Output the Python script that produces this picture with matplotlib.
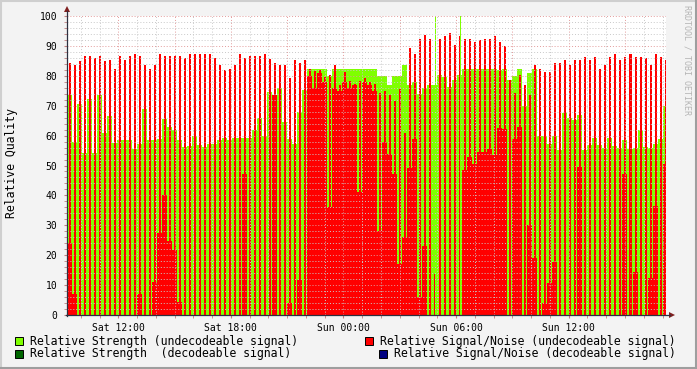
import matplotlib
matplotlib.use("Agg")
import matplotlib.pyplot as plt
import numpy as np
from matplotlib.patches import Rectangle, Polygon
from matplotlib.lines import Line2D
from matplotlib.ticker import MultipleLocator, FixedLocator

# ---------------- data ----------------
# one slot every 16 minutes, first slot begins Sat 09:16 (hours counted from Sat 00:00)
slot_start_hour = 9.267
slot_hours = 16 / 60

strength = [73.5, 58, 70.7, 54.3, 72.4, 54.3, 73.5, 61, 66.4, 57.6, 58.4, 58.4, 58.4, 55.6, 57.3, 69, 58.4, 58.4, 59, 65.7, 62.9, 61.8, 58.4, 56.2,
            56.4, 60, 57, 56.2, 57.3, 57.3, 58.4, 59.3, 58.4, 59.3, 59.3, 59.3, 59.3, 62, 66, 60, 74.6, 72, 76, 64.5, 59, 57.3, 68, 75.4,
            82.4, 82.4, 82.4, 82.4, 80, 82.4, 82.4, 82.4, 82.4, 82.4, 82.4, 82.4, 82.4, 82.4, 80, 80, 77, 80, 80, 83.5, 77, 78, 74, 76,
            77, 77, 80.4, 79.6, 76.3, 78.7, 80.4, 82.4, 82.4, 82.4, 82.4, 82.4, 82.4, 82.4, 82, 82.4, 78.5, 80, 82.4, 70, 81, 82.4, 60, 60,
            57.3, 60, 55.1, 67.6, 66, 65.3, 66.8, 55.3, 57, 59.3, 56.7, 56, 59.3, 56.6, 56, 58.4, 55.6, 55.8, 62, 56.2, 56, 57.3, 59, 70]

snr_main = [84.3, 83.5, 84.8, 86.5, 86.5, 86, 86.5, 84.8, 85.4, 82.4, 86.5, 85.4, 86.5, 87.4, 86.5, 83.5, 82.4, 83.5, 87.4, 86.5, 86.5, 86.5, 86.5, 86,
            87.4, 87.4, 87.4, 87.4, 87.4, 86, 83.5, 82, 82.4, 83.5, 87.4, 86, 86.5, 86.5, 86.5, 87.4, 85.7, 84.3, 83.5, 83.5, 79.4, 85.4, 84.3, 85.4,
            82.4, 81.5, 82, 79.6, 80.4, 83.5, 77, 81.3, 78.3, 77.4, 78.3, 79.3, 78, 77.4, 74.4, 75, 73.5, 71.6, 75.7, 61, 89.4, 87.4, 92.4, 93.5,
            92.4, 13.8, 92.4, 93.3, 94.4, 90.4, 93.3, 92.4, 92.4, 91.3, 92, 92.4, 92.4, 93.3, 91.3, 90, 78.5, 74.4, 80.4, 77, 73.5, 83.5, 82.4, 81.3,
            81.3, 84.3, 84.3, 85.4, 83.5, 85.4, 85.4, 86.3, 85.4, 86.3, 82.4, 83.5, 86.3, 87.4, 85.4, 86.3, 87.4, 86.3, 86.3, 86, 83.5, 87.4, 86.3, 85.2]

snr_side = [24, 7, 0, 0, 0, 0, 0, 0, 0, 0, 0, 0, 0, 0, 7.1, 0, 0, 11, 27.5, 40, 24.6, 21.6, 4.3, 0,
            0, 0, 0, 0, 0, 0, 0, 0, 0, 0, 0, 47, 0, 0, 0, 0, 0, 73.7, 0, 0, 4, 0, 11.6, 0,
            80, 76, 81, 78, 36, 76, 75, 78, 76, 77, 41, 78, 77, 75, 28, 58, 54, 47, 17, 26, 49, 59, 6, 23,
            0, 0, 0, 0, 0, 0, 0, 48.4, 53, 50.5, 54.5, 54.5, 55.5, 53.5, 62.5, 62.3, 0, 59, 63, 0, 30, 19, 0, 4,
            10.7, 17.7, 0, 0, 0, 0, 49.5, 0, 0, 0, 0, 0, 0, 0, 0, 47, 0, 14.4, 0, 0, 12.5, 36.3, 0, 50.6]

spike_slots = [73, 78]
spike_values = [100, 100]

x_tick_hours = [12, 18, 24, 30, 36]
x_tick_labels = ["Sat 12:00", "Sat 18:00", "Sun 00:00", "Sun 06:00", "Sun 12:00"]
y_ticks = [0, 10, 20, 30, 40, 50, 60, 70, 80, 90, 100]

legend_labels = ["Relative Strength (undecodeable signal)",
                 "Relative Signal/Noise (undecodeable signal)",
                 "Relative Strength  (decodeable signal)",
                 "Relative Signal/Noise (decodeable signal)"]
legend_colors = ["#7FFF00", "#FF0000", "#006600", "#000080"]

# ---------------- figure ----------------
W, H = 697, 369
fig = plt.figure(figsize=(W / 100, H / 100), dpi=100, facecolor="#F3F3F3")
MONO = "DejaVu Sans Mono"

def fx(x):
    return x / W

def fy(y):
    return 1 - y / H

L, R, T, B = 67, 666, 16, 315
ax = fig.add_axes([fx(L), fy(B), (R - L) / W, (B - T) / H])
ax.set_facecolor("white")

t = slot_start_hour + np.arange(len(strength)) * slot_hours
GREEN, RED = "#7FFF00", "#FF0000"
kw = dict(align="edge", linewidth=0, antialiased=False)
ax.bar(t, strength, width=slot_hours, color=GREEN, zorder=1, **kw)
ax.bar(t, snr_side, width=0.4 * slot_hours, color=RED, zorder=1.1, **kw)
ax.bar(t + 0.8 * slot_hours, snr_side, width=0.2 * slot_hours, color=RED, zorder=1.1, **kw)
ax.bar(t + 0.4 * slot_hours, snr_main, width=0.4 * slot_hours, color=RED, zorder=1.2, **kw)
ts = slot_start_hour + np.array(spike_slots) * slot_hours
ax.bar(ts + 0.45 * slot_hours, spike_values, width=0.2 * slot_hours, color=GREEN, zorder=1.3, **kw)

x0 = 9.267
x1 = x0 + (R - L) / (112.6 / 6)
ax.set_xlim(x0, x1)
ax.set_ylim(0, 100)

# grid
for h in np.arange(10, 42, 1):
    if x0 < h < x1:
        major = (h % 3 == 0)
        ax.axvline(h, color="#E39B9B" if major else "#C9C9C9", lw=0.7,
                   linestyle=(0, (1, 2)), zorder=3)
for v in np.arange(2, 101, 2):
    major = (v % 10 == 0)
    ax.axhline(v, color="#E39B9B" if major else "#C9C9C9", lw=0.7,
               linestyle=(0, (1, 2)), zorder=3)

ax.xaxis.set_major_locator(FixedLocator(x_tick_hours))
ax.set_xticklabels(x_tick_labels, fontsize=7.0, family=MONO)
ax.xaxis.set_minor_locator(FixedLocator([h for h in range(10, 42)]))
ax.set_yticks(y_ticks)
ax.set_yticklabels([str(v) for v in y_ticks], fontsize=7.0, family=MONO)
ax.yaxis.set_minor_locator(MultipleLocator(2))
ax.tick_params(axis="x", which="both", length=2, color="#C08080", pad=3.5)
ax.tick_params(axis="y", which="both", length=2, color="#C08080", pad=5)
for s in ax.spines.values():
    s.set_visible(False)

# axis lines and arrows
AXC = "#2C3040"
fig.add_artist(Line2D([fx(L - 1), fx(670)], [fy(B), fy(B)], color=AXC, lw=0.9))
fig.add_artist(Line2D([fx(L), fx(L)], [fy(B + 1), fy(11)], color=AXC, lw=0.9))
ARC = "#7F1F1F"
fig.add_artist(Polygon([(fx(669), fy(B - 3)), (fx(669), fy(B + 3)), (fx(675), fy(B))],
                       closed=True, color=ARC, lw=0))
fig.add_artist(Polygon([(fx(L - 3), fy(12)), (fx(L + 3), fy(12)), (fx(L), fy(6))],
                       closed=True, color=ARC, lw=0))

# y label
fig.text(fx(12), fy(163), "Relative Quality", rotation=90, ha="center", va="center",
         fontsize=8.3, family=MONO)

# watermark
fig.text(fx(687), fy(5), "RRDTOOL / TOBI OETIKER", rotation=270, ha="center", va="top",
         fontsize=6.0, family=MONO, color="#B5B5B5")

# legend
def legend_box(x, y, c):
    fig.add_artist(Rectangle((fx(x), fy(y + 4)), 8 / W, 8 / H, facecolor=c,
                             edgecolor="black", lw=0.7))

legend_box(15, 341, legend_colors[0])
fig.text(fx(30), fy(341), legend_labels[0], ha="left", va="center", fontsize=8.3, family=MONO)
legend_box(365, 341, legend_colors[1])
fig.text(fx(380), fy(341), legend_labels[1], ha="left", va="center", fontsize=8.3, family=MONO)
legend_box(15, 354, legend_colors[2])
fig.text(fx(30), fy(354), legend_labels[2], ha="left", va="center", fontsize=8.3, family=MONO)
legend_box(379, 354, legend_colors[3])
fig.text(fx(394), fy(354), legend_labels[3], ha="left", va="center", fontsize=8.3, family=MONO)

# image border shading
fig.add_artist(Line2D([0, 1], [fy(0.5), fy(0.5)], color="#CFCFCF", lw=1.5))
fig.add_artist(Line2D([fx(0.5), fx(0.5)], [0, 1], color="#CFCFCF", lw=1.5))
fig.add_artist(Line2D([0, 1], [fy(H - 1), fy(H - 1)], color="#9E9E9E", lw=1.5))
fig.add_artist(Line2D([fx(W - 1), fx(W - 1)], [0, 1], color="#9E9E9E", lw=1.5))

fig.savefig("out.png", dpi=100, facecolor=fig.get_facecolor())
